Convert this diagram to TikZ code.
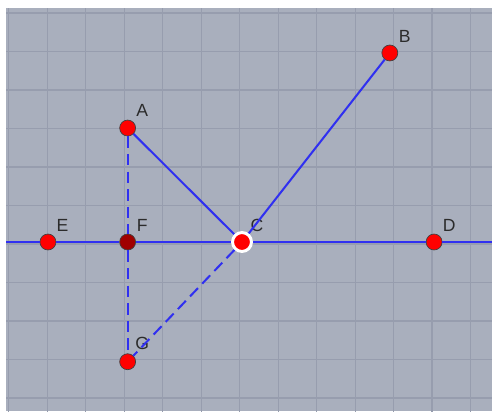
\documentclass[tikz,border=0pt]{standalone}
\usepackage{fontspec}
\setmainfont{Liberation Sans}
\usepackage{tikz}
\definecolor{ggbpaper}{HTML}{A9AFBD}
\definecolor{ggbgrid}{HTML}{979DAE}
\definecolor{ggbline}{HTML}{3030F0}
\definecolor{ggbred}{HTML}{FF0000}
\definecolor{ggbdark}{HTML}{A00000}
\definecolor{ggbtext}{HTML}{2B2B2B}

\begin{document}
\begin{tikzpicture}[
  grid line/.style={draw=ggbgrid, line width=1pt},
  seg/.style={draw=ggbline, line width=1.5pt},
  dseg/.style={seg, dash pattern=on 8.5pt off 4.5pt},
  point/.style={circle, draw=black!75, line width=0.5pt, fill=ggbred, minimum size=11.8pt, inner sep=0pt},
  lbl/.style={font=\fontsize{13}{13}\selectfont, text=ggbtext, inner sep=0pt}
]
\useasboundingbox (-6.286,-4.390) rectangle (6.494,6.286);
\fill[white] (-6.286,-4.390) rectangle (6.494,6.286);
\fill[ggbpaper] (-6.13,-4.390) rectangle (6.494,6.078);
\begin{scope}
\clip (-6.13,-4.390) rectangle (6.494,6.078);
\draw[grid line, shift={(-0.06,-0.05)}] (-7,-5) grid (7,7);
\end{scope}

\node[point] (A) at (-2.97,2.96) {};
\node[point] (B) at (3.84,4.91) {};
\node[point, draw=white, line width=2.2pt, minimum size=14pt] (C) at (0,0) {};
\node[point] (D) at (4.99,0) {};
\node[point] (E) at (-5.04,0) {};
\node[point, fill=ggbdark] (F) at (-2.97,0) {};
\node[point] (G) at (-2.97,-3.11) {};
\coordinate (west) at (-6.13,0);
\coordinate (east) at (6.494,0);

\node[lbl] (lA) at ([shift={(0.38,0.45)}]A) {A};
\node[lbl] (lB) at ([shift={(0.39,0.44)}]B) {B};
\node[lbl] (lC) at ([shift={(0.39,0.44)}]C) {C};
\node[lbl] (lD) at ([shift={(0.39,0.44)}]D) {D};
\node[lbl] (lE) at ([shift={(0.38,0.42)}]E) {E};
\node[lbl] (lF) at ([shift={(0.38,0.42)}]F) {F};
\node[lbl] (lG) at ([shift={(0.38,0.47)}]G) {G};

\draw[seg] (west) -- (E) -- (F) -- (C) -- (D) -- (east);
\draw[seg] (A) -- (C);
\draw[seg] (C) -- (B);
\draw[dseg] (A) -- (F);
\draw[dseg] (F) -- (G);
\draw[dseg] (C) -- (G);
\end{tikzpicture}
\end{document}
